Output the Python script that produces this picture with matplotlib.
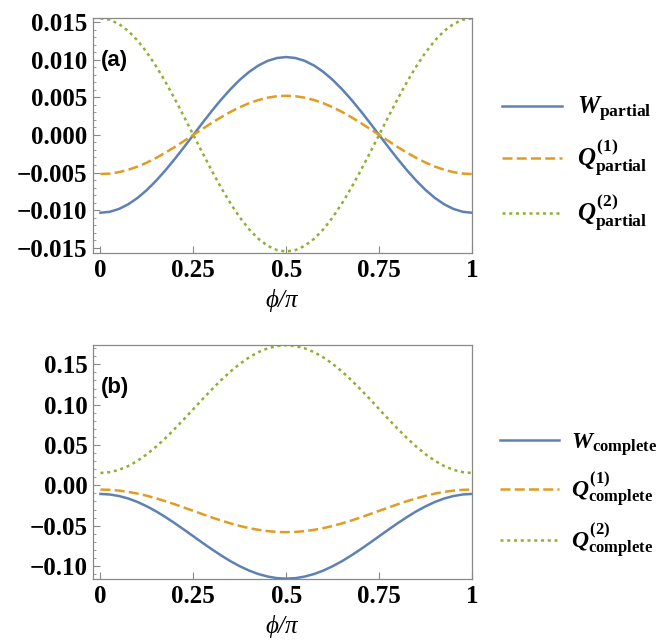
import matplotlib
matplotlib.use("Agg")
import matplotlib.pyplot as plt
from matplotlib.ticker import FixedLocator, MultipleLocator, FuncFormatter

plt.rcParams['mathtext.fontset'] = 'custom'
plt.rcParams['mathtext.rm'] = 'Liberation Serif:bold'
plt.rcParams['mathtext.bf'] = 'Liberation Serif:bold'
plt.rcParams['mathtext.it'] = 'Liberation Serif:bold:italic'
plt.rcParams['mathtext.sf'] = 'Liberation Serif:italic'

# ---- data ----
phi = [0.000, 0.025, 0.050, 0.075, 0.100, 0.125, 0.150, 0.175, 0.200, 0.225,
       0.250, 0.275, 0.300, 0.325, 0.350, 0.375, 0.400, 0.425, 0.450, 0.475,
       0.500, 0.525, 0.550, 0.575, 0.600, 0.625, 0.650, 0.675, 0.700, 0.725,
       0.750, 0.775, 0.800, 0.825, 0.850, 0.875, 0.900, 0.925, 0.950, 0.975, 1.000]

w_partial = [-0.01035, -0.01022, -0.00984, -0.00922, -0.00837, -0.00732, -0.00608, -0.00470, -0.00320, -0.00162,
             0.0, 0.00162, 0.00320, 0.00470, 0.00608, 0.00732, 0.00837, 0.00922, 0.00984, 0.01022,
             0.01035, 0.01022, 0.00984, 0.00922, 0.00837, 0.00732, 0.00608, 0.00470, 0.00320, 0.00162,
             0.0, -0.00162, -0.00320, -0.00470, -0.00608, -0.00732, -0.00837, -0.00922, -0.00984, -0.01022, -0.01035]
q1_partial = [-0.00520, -0.00514, -0.00495, -0.00463, -0.00421, -0.00368, -0.00306, -0.00236, -0.00161, -0.00081,
              0.0, 0.00081, 0.00161, 0.00236, 0.00306, 0.00368, 0.00421, 0.00463, 0.00495, 0.00514,
              0.00520, 0.00514, 0.00495, 0.00463, 0.00421, 0.00368, 0.00306, 0.00236, 0.00161, 0.00081,
              0.0, -0.00081, -0.00161, -0.00236, -0.00306, -0.00368, -0.00421, -0.00463, -0.00495, -0.00514, -0.00520]
q2_partial = [0.01550, 0.01531, 0.01474, 0.01381, 0.01254, 0.01096, 0.00911, 0.00704, 0.00479, 0.00242,
              0.0, -0.00242, -0.00479, -0.00704, -0.00911, -0.01096, -0.01254, -0.01381, -0.01474, -0.01531,
              -0.01550, -0.01531, -0.01474, -0.01381, -0.01254, -0.01096, -0.00911, -0.00704, -0.00479, -0.00242,
              0.0, 0.00242, 0.00479, 0.00704, 0.00911, 0.01096, 0.01254, 0.01381, 0.01474, 0.01531, 0.01550]

w_complete = [-0.0107, -0.0114, -0.0133, -0.0164, -0.0207, -0.0261, -0.0323, -0.0394, -0.0470, -0.0550,
              -0.0632, -0.0714, -0.0794, -0.0870, -0.0941, -0.1003, -0.1057, -0.1100, -0.1131, -0.1151,
              -0.1157, -0.1151, -0.1131, -0.1100, -0.1057, -0.1003, -0.0941, -0.0870, -0.0794, -0.0714,
              -0.0632, -0.0550, -0.0470, -0.0394, -0.0323, -0.0261, -0.0207, -0.0164, -0.0133, -0.0114, -0.0107]
q1_complete = [-0.0053, -0.0056, -0.0066, -0.0082, -0.0103, -0.0130, -0.0162, -0.0197, -0.0235, -0.0276,
               -0.0317, -0.0358, -0.0399, -0.0437, -0.0472, -0.0504, -0.0531, -0.0552, -0.0568, -0.0578,
               -0.0581, -0.0578, -0.0568, -0.0552, -0.0531, -0.0504, -0.0472, -0.0437, -0.0399, -0.0358,
               -0.0317, -0.0276, -0.0235, -0.0197, -0.0162, -0.0130, -0.0103, -0.0082, -0.0066, -0.0056, -0.0053]
q2_complete = [0.0153, 0.0163, 0.0192, 0.0239, 0.0304, 0.0385, 0.0480, 0.0585, 0.0700, 0.0821,
               0.0945, 0.1069, 0.1190, 0.1305, 0.1411, 0.1505, 0.1586, 0.1651, 0.1698, 0.1727,
               0.1737, 0.1727, 0.1698, 0.1651, 0.1586, 0.1505, 0.1411, 0.1305, 0.1190, 0.1069,
               0.0945, 0.0821, 0.0700, 0.0585, 0.0480, 0.0385, 0.0304, 0.0239, 0.0192, 0.0163, 0.0153]

x_ticks = [0, 0.25, 0.5, 0.75, 1]
x_ticklabels = ['0', '0.25', '0.5', '0.75', '1']
yticks_a = [-0.015, -0.010, -0.005, 0.000, 0.005, 0.010, 0.015]
yticks_b = [-0.10, -0.05, 0.00, 0.05, 0.10, 0.15]

labels_a = [r'$W_{\mathrm{partial}}$', r'$Q^{(1)}_{\mathrm{partial}}$', r'$Q^{(2)}_{\mathrm{partial}}$']
labels_b = [r'$W_{\mathrm{complete}}$', r'$Q^{(1)}_{\mathrm{complete}}$', r'$Q^{(2)}_{\mathrm{complete}}$']

# ---- styling ----
c_blue, c_orange, c_green = '#5E81B5', '#E19C24', '#8FB032'
lw = 1.8

fig = plt.figure(figsize=(6.63, 6.42), dpi=100)
ax_a = fig.add_axes([0.1403, 0.6059, 0.5716, 0.3656])
ax_b = fig.add_axes([0.1403, 0.0977, 0.5716, 0.3650])


def style(ax, yticks, ylim, minor, fmt):
    ax.set_xlim(-0.02, 1.0)
    ax.set_ylim(*ylim)
    ax.xaxis.set_major_locator(FixedLocator(x_ticks))
    ax.set_xticklabels(x_ticklabels)
    ax.yaxis.set_major_locator(FixedLocator(yticks))
    ax.yaxis.set_minor_locator(MultipleLocator(minor))
    ax.yaxis.set_major_formatter(FuncFormatter(lambda v, p: (fmt % v).replace('-', '\u2212')))
    ax.tick_params(axis='both', which='both', direction='in', top=False, right=False,
                   color='#888888', labelsize=18)
    ax.tick_params(axis='both', which='major', length=5, width=0.8, pad=4)
    ax.tick_params(axis='y', which='minor', length=2.5, width=0.6)
    for lab in ax.get_xticklabels() + ax.get_yticklabels():
        lab.set_family('Liberation Serif')
        lab.set_weight('bold')
    for s in ax.spines.values():
        s.set_color('#888888')
        s.set_linewidth(0.9)
    ax.set_xlabel(r'$\mathsf{\phi/\pi}$', fontsize=18, labelpad=4)


def draw(ax, ys):
    l1, = ax.plot(phi, ys[0], color=c_blue, lw=lw)
    l2, = ax.plot(phi, ys[1], color=c_orange, lw=lw, dashes=(4.0, 1.7))
    l3, = ax.plot(phi, ys[2], color=c_green, lw=lw, dashes=(1.2, 1.5))
    return [l1, l2, l3]


ha = draw(ax_a, [w_partial, q1_partial, q2_partial])
hb = draw(ax_b, [w_complete, q1_complete, q2_complete])

style(ax_a, yticks_a, (-0.0157, 0.0155), 0.001, '%.3f')
style(ax_b, yticks_b, (-0.1165, 0.1740), 0.01, '%.2f')

for ax, lab in [(ax_a, '(a)'), (ax_b, '(b)')]:
    ax.text(0.02, 0.82, lab, transform=ax.transAxes, family='Liberation Sans',
            weight='bold', fontsize=16, va='center', ha='left')

ax_a.legend(ha, labels_a, loc='center left', bbox_to_anchor=(1.0, 0.378), frameon=False,
            fontsize=18, handlelength=2.4, handletextpad=0.6, labelspacing=0.55,
            borderaxespad=0.8)
ax_b.legend(hb, labels_b, loc='center left', bbox_to_anchor=(1.0, 0.36), frameon=False,
            fontsize=17, handlelength=2.5, handletextpad=0.5, labelspacing=0.55,
            borderaxespad=0.8)

fig.savefig('out.png', dpi=100)
